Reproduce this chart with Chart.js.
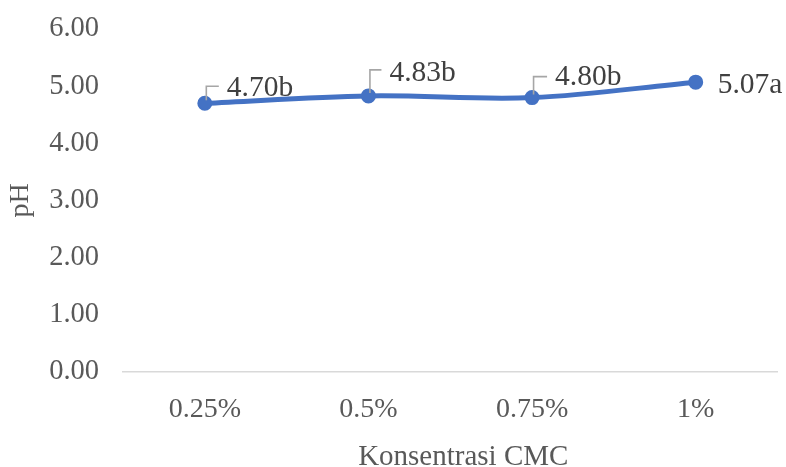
<!DOCTYPE html>
<html>
<head>
<meta charset="utf-8">
<script src="https://cdn.jsdelivr.net/npm/chart.js@4/dist/chart.umd.min.js"></script>
<style>
  html, body { margin: 0; padding: 0; background: #ffffff; }
  #wrap { width: 786px; height: 467px; position: relative; }
</style>
</head>
<body>
<div id="wrap"><canvas id="c" width="786" height="467"></canvas></div>
<script>
const categories = ['0.25%', '0.5%', '0.75%', '1%'];
const phValues = [4.70, 4.83, 4.80, 5.07];
const notations = ['b', 'b', 'b', 'a'];
const yTicks = [0, 1, 2, 3, 4, 5, 6];
const xTitle = 'Konsentrasi CMC';
const yTitle = 'pH';

const FONT = "'Liberation Serif', 'Times New Roman', serif";

// label placement (style only: pixel offsets from each point)
const labelStyle = [
  { dx: 22, dy: -15, leaderTop: -17, leaderEnd: 14 },
  { dx: 21, dy: -23, leaderTop: -26, leaderEnd: 13 },
  { dx: 23, dy: -20, leaderTop: -21, leaderEnd: 15 },
  { dx: 22, dy: 3, leaderTop: null }
];

const dataLabelPlugin = {
  id: 'dataLabels',
  afterDatasetsDraw(chart) {
    const ctx = chart.ctx;
    const meta = chart.getDatasetMeta(0);
    ctx.save();
    meta.data.forEach((pt, i) => {
      const st = labelStyle[i];
      const px = pt.x, py = pt.y;
      if (st.leaderTop !== null) {
        ctx.strokeStyle = '#A6A6A6';
        ctx.lineWidth = 1.6;
        ctx.beginPath();
        ctx.moveTo(px + 1.5, py - 3);
        ctx.lineTo(px + 1.5, py + st.leaderTop);
        ctx.lineTo(px + st.leaderEnd, py + st.leaderTop);
        ctx.stroke();
      }
      ctx.fillStyle = '#404040';
      ctx.font = "29.5px " + FONT;
      ctx.textAlign = 'left';
      ctx.textBaseline = 'middle';
      ctx.fillText(phValues[i].toFixed(2) + notations[i], px + st.dx, py + st.dy);
    });
    ctx.restore();
  }
};

const xTitlePlugin = {
  id: 'xTitle',
  afterDraw(chart) {
    const ctx = chart.ctx;
    const a = chart.chartArea;
    ctx.save();
    ctx.fillStyle = '#595959';
    ctx.font = "29px " + FONT;
    ctx.textAlign = 'center';
    ctx.textBaseline = 'middle';
    ctx.fillText(xTitle, (a.left + a.right) / 2 + 13, chart.height - 10);
    ctx.restore();
  }
};

new Chart(document.getElementById('c'), {
  type: 'line',
  data: {
    labels: categories,
    datasets: [{
      data: phValues,
      borderColor: '#4472C4',
      backgroundColor: '#4472C4',
      borderWidth: 5,
      pointRadius: 6.5,
      pointBorderWidth: 2,
      pointBackgroundColor: '#4472C4',
      pointBorderColor: '#4472C4',
      tension: 0.35,
      fill: false
    }]
  },
  options: {
    responsive: false,
    animation: false,
    devicePixelRatio: 1,
    layout: { padding: { top: 29, left: 0, right: 6, bottom: 0 } },
    plugins: {
      legend: { display: false },
      tooltip: { enabled: false }
    },
    scales: {
      x: {
        offset: true,
        grid: { display: false, drawTicks: false },
        border: { display: true, color: '#D9D9D9', width: 1.5 },
        ticks: {
          color: '#595959',
          font: { family: FONT, size: 28 },
          padding: 21,
          maxRotation: 0,
          autoSkip: false
        },
        title: { display: false },
        afterFit(scale) {
          scale.height = 95;
          scale.paddingLeft = 0;
          scale.paddingRight = 0;
        }
      },
      y: {
        min: 0,
        max: 6,
        afterBuildTicks(scale) { scale.ticks = yTicks.map(v => ({ value: v })); },
        grid: { display: false, drawTicks: false },
        border: { display: false },
        ticks: {
          color: '#595959',
          font: { family: FONT, size: 28.5 },
          padding: 24,
          callback: (v) => Number(v).toFixed(2)
        },
        title: {
          display: true,
          text: yTitle,
          color: '#595959',
          font: { family: FONT, size: 28, lineHeight: 1.5 },
          padding: 0
        },
        afterFit(scale) {
          scale.width = 123;
          scale.paddingTop = 0;
          scale.paddingBottom = 0;
        }
      }
    }
  },
  plugins: [dataLabelPlugin, xTitlePlugin]
});
</script>
</body>
</html>
